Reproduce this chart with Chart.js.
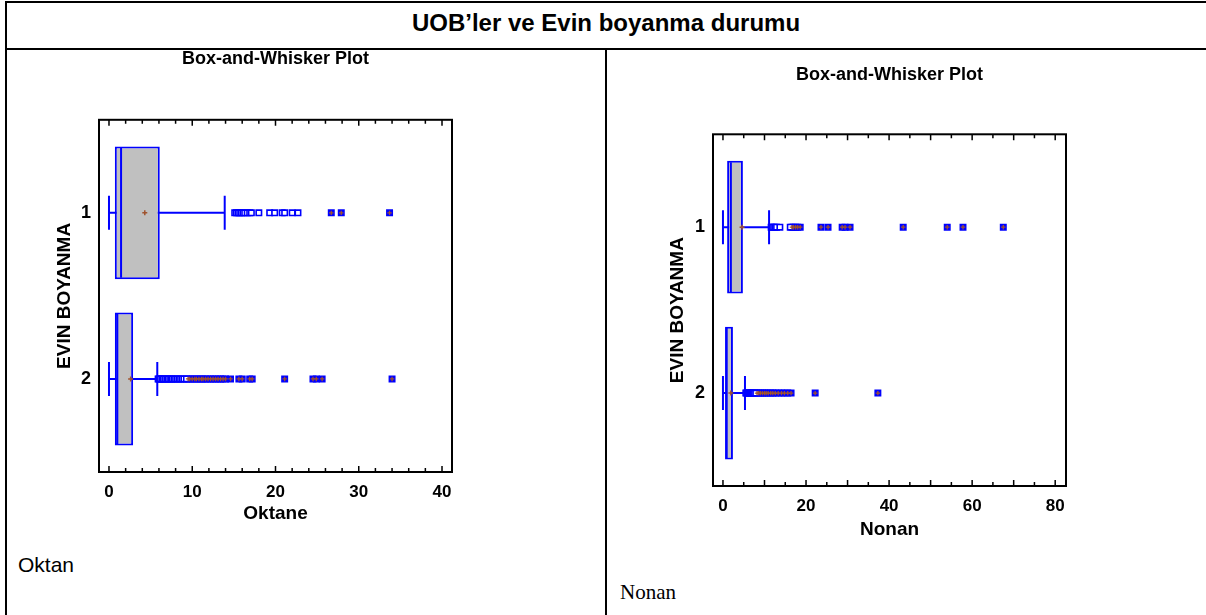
<!DOCTYPE html>
<html>
<head>
<meta charset="utf-8">
<script src="https://cdn.jsdelivr.net/npm/chart.js@4.4.0/dist/chart.umd.min.js"></script>
<style>
  html, body { margin: 0; padding: 0; background: #fff; }
  body { width: 1206px; height: 615px; overflow: hidden; position: relative; font-family: "Liberation Sans", Arial, sans-serif; }
  .ln { position: absolute; background: #000; }
  #mainTitle { position: absolute; left: 6px; width: 1200px; top: 0px; height: 46px; display: flex; align-items: center; justify-content: center; font-weight: bold; font-size: 24px; color: #000; }
  canvas { position: absolute; }
  #capL { position: absolute; left: 18px; top: 553px; font-size: 21px; font-family: "Liberation Sans", Arial, sans-serif; }
  #capR { position: absolute; left: 620px; top: 580px; font-size: 21px; font-family: "Liberation Serif", "Times New Roman", serif; }
</style>
</head>
<body>
<div class="ln" style="left:5px;top:1px;width:1201px;height:2px"></div>
<div class="ln" style="left:5px;top:1px;width:2px;height:614px"></div>
<div class="ln" style="left:5px;top:48px;width:1201px;height:2px"></div>
<div class="ln" style="left:605px;top:48px;width:2px;height:567px"></div>
<div id="mainTitle">UOB’ler ve Evin boyanma durumu</div>
<canvas id="cOkt" width="480" height="480" style="left:20px;top:45px"></canvas>
<canvas id="cNon" width="480" height="480" style="left:630px;top:62px"></canvas>
<div id="capL">Oktan</div>
<div id="capR">Nonan</div>
<script>
// ---------- data ----------
const categories = ['1', '2'];
const catPos = [1, 2];

// Oktane
const oktLow = [0, 0];
const oktQ1 = [0.7, 0.7];
const oktMedian = [1.45, 1.0];
const oktQ3 = [6.1, 2.9];
const oktHigh = [13.9, 5.8];
const oktMean = [4.3, 2.6];
const oktNear1 = [15.1, 15.3, 15.5, 15.7, 15.9, 16.1, 16.3, 16.6, 16.9, 17.1, 18.0, 19.3, 19.9, 20.8, 21.1, 22.0, 22.7];
const oktFar1 = [26.7, 27.9, 33.7];
const oktNear2 = [5.9, 6.0, 6.1, 6.2, 6.4, 6.5, 6.7, 6.8, 7.0, 7.1, 7.3, 7.5, 7.6, 7.8, 8.0, 8.2, 8.4, 8.6, 8.8, 9.0, 9.3];
const oktFar2 = [9.5, 9.7, 10.0, 10.3, 10.5, 10.8, 11.1, 11.3, 11.6, 11.9, 12.2, 12.5, 12.8, 13.1, 13.4, 13.7, 14.0, 14.6, 15.6, 16.0, 16.9, 17.2, 21.1, 24.5, 24.9, 25.6, 34.0];

// Nonan
const nonLow = [0, 0];
const nonQ1 = [1.0, 0.5];
const nonMedian = [1.9, 0.9];
const nonQ3 = [4.8, 2.4];
const nonHigh = [11.1, 5.3];
const nonMean = [4.6, 1.9];
const nonNear1 = [11.6, 11.9, 12.2, 12.5, 12.9, 13.7, 16.2];
const nonFar1 = [16.6, 17.0, 17.5, 18.0, 18.6, 23.6, 25.3, 28.7, 29.4, 30.6, 43.4, 54.0, 57.8, 67.5];
const nonNear2 = [5.5, 5.7, 5.9, 6.1, 6.3, 6.5, 6.8, 7.0, 7.3, 7.6, 7.9];
const nonFar2 = [8.2, 8.6, 9.0, 9.5, 10.0, 10.4, 10.9, 11.5, 12.0, 12.6, 13.3, 14.1, 14.8, 15.6, 16.4, 22.2, 37.3];

const oktTickLabels = [0, 10, 20, 30, 40];
const nonTickLabels = [0, 20, 40, 60, 80];

// ---------- styling ----------
const BLUE = '#0000FF';
const GRAY = '#C0C0C0';
const BROWN = '#A0522D';
const FONT = "'Liberation Sans', Arial, sans-serif";
Chart.defaults.font.family = FONT;
Chart.defaults.color = '#000';

const framePlugin = {
  id: 'frame',
  afterDatasetsDraw(chart, args, opts) {
    const { ctx, chartArea: a } = chart;
    const x = chart.scales.x;
    ctx.save();
    ctx.strokeStyle = '#000';
    ctx.lineWidth = 1.5;
    x.ticks.forEach(t => {
      const px = x.getPixelForValue(t.value);
      const len = (Math.abs(t.value % opts.major) < 1e-6) ? 6 : 4;
      ctx.beginPath();
      ctx.moveTo(px, a.bottom); ctx.lineTo(px, a.bottom - len);
      ctx.moveTo(px, a.top); ctx.lineTo(px, a.top + len);
      ctx.stroke();
    });
    ctx.lineWidth = 2;
    ctx.strokeRect(a.left, a.top, a.right - a.left, a.bottom - a.top);
    ctx.restore();
  }
};

function pts(vals, y) { return vals.map(v => ({ x: v, y: y })); }

function buildDatasets(s) {
  const ds = [];
  catPos.forEach((y, i) => {
    ds.push({
      type: 'line', order: 3,
      data: [{ x: s.low[i], y }, { x: s.q1[i], y }, { x: s.q3[i], y }, { x: s.high[i], y }],
      borderColor: BLUE, borderWidth: 2, fill: false,
      pointStyle: 'line', pointRotation: 90, pointRadius: [17, 0, 0, 17],
      pointBorderColor: BLUE, pointBorderWidth: 2
    });
  });
  ds.push({
    type: 'bar', indexAxis: 'y', order: 2,
    data: catPos.map((y, i) => ({ x: [s.q1[i], s.q3[i]], y })),
    backgroundColor: GRAY, borderColor: BLUE, borderWidth: 2, borderSkipped: false,
    categoryPercentage: 0.8, barPercentage: 1
  });
  ds.push({
    type: 'scatter', order: 1,
    data: catPos.map((y, i) => ({ x: s.median[i], y })),
    pointStyle: 'line', pointRotation: 90, pointRadius: 65,
    pointBorderColor: BLUE, pointBorderWidth: 2
  });
  ds.push({
    type: 'scatter', order: 1,
    data: pts(s.near[0], 1).concat(pts(s.near[1], 2)),
    pointStyle: 'rect', pointRadius: 3.8,
    pointBackgroundColor: '#FFFFFF', pointBorderColor: BLUE, pointBorderWidth: 1.6
  });
  ds.push({
    type: 'scatter', order: 1,
    data: pts(s.far[0], 1).concat(pts(s.far[1], 2)),
    pointStyle: 'rect', pointRadius: 3.8,
    pointBackgroundColor: BLUE, pointBorderColor: BLUE, pointBorderWidth: 1.6
  });
  ds.push({
    type: 'scatter', order: 0,
    data: pts(s.far[0], 1).concat(pts(s.far[1], 2)),
    pointStyle: 'cross', pointRadius: 2.2,
    pointBorderColor: BROWN, pointBorderWidth: 1.3
  });
  ds.push({
    type: 'scatter', order: 0,
    data: catPos.map((y, i) => ({ x: s.mean[i], y })),
    pointStyle: 'cross', pointRadius: 2.5,
    pointBorderColor: BROWN, pointBorderWidth: 1.5
  });
  return ds;
}

function makeConfig(s, L) {
  return {
    type: 'scatter',
    data: { datasets: buildDatasets(s) },
    plugins: [framePlugin],
    options: {
      responsive: false, maintainAspectRatio: false, animation: false, events: [],
      layout: { padding: { left: 0, right: 20, top: 0, bottom: 0 } },
      plugins: {
        legend: { display: false }, tooltip: { enabled: false },
        title: {
          display: true, fullSize: false, text: 'Box-and-Whisker Plot', color: '#000',
          font: { family: FONT, size: 18, weight: 'bold' },
          padding: { top: 4, bottom: L.titleBottom }
        },
        frame: { major: 10 }
      },
      scales: {
        x: {
          type: 'linear', min: s.min, max: s.max, offset: false,
          grid: { display: false, drawTicks: false }, border: { display: false },
          afterBuildTicks: sc => {
            const last = s.tickLabels[s.tickLabels.length - 1];
            const arr = [];
            for (let v = s.tickLabels[0]; v <= last + 1e-9; v += s.minor) arr.push({ value: Math.round(v * 1e6) / 1e6 });
            sc.ticks = arr;
          },
          ticks: {
            autoSkip: false, maxRotation: 0, minRotation: 0,
            padding: 10, color: '#000',
            font: { family: FONT, size: 17, weight: 'bold' },
            callback: v => (s.tickLabels.indexOf(v) >= 0 ? String(v) : '')
          },
          title: {
            display: true, text: s.xTitle, color: '#000',
            font: { family: FONT, size: 19, weight: 'bold' },
            padding: { top: L.xTitleTop, bottom: 0 }
          }
        },
        y: {
          type: 'linear', min: 0.44, max: 2.56, reverse: true, offset: false,
          grid: { display: false, drawTicks: false }, border: { display: false },
          afterBuildTicks: sc => { sc.ticks = catPos.map(v => ({ value: v })); },
          ticks: {
            padding: 8, color: '#000',
            font: { family: FONT, size: 18, weight: 'bold' },
            callback: v => { const k = catPos.indexOf(v); return k >= 0 ? categories[k] : ''; }
          },
          title: {
            display: true, text: 'EVIN BOYANMA', color: '#000',
            font: { family: FONT, size: 19, weight: 'bold' },
            padding: { top: 0, bottom: L.yTitleGap }
          }
        }
      }
    }
  };
}

function placeChart(id, s, L, target) {
  const cv = document.getElementById(id);
  let chart = new Chart(cv, makeConfig(s, L));
  for (let k = 0; k < 3; k++) {
    const a = chart.chartArea;
    const w = Math.round(cv.width + target.w - (a.right - a.left));
    const h = Math.round(cv.height + target.h - (a.bottom - a.top));
    chart.destroy();
    cv.width = w; cv.height = h;
    chart = new Chart(cv, makeConfig(s, L));
  }
  const a = chart.chartArea;
  cv.style.left = (target.x - a.left) + 'px';
  cv.style.top = (target.y - a.top) + 'px';
}

placeChart('cOkt', {
  low: oktLow, q1: oktQ1, median: oktMedian, q3: oktQ3, high: oktHigh, mean: oktMean,
  near: [oktNear1, oktNear2], far: [oktFar1, oktFar2],
  min: -1.2, max: 41.2, minor: 2, tickLabels: oktTickLabels, xTitle: 'Oktane'
}, { titleBottom: 50.2, xTitleTop: -10, yTitleGap: -3.5 }, { x: 99, y: 120, w: 353, h: 352 });

placeChart('cNon', {
  low: nonLow, q1: nonQ1, median: nonMedian, q3: nonQ3, high: nonHigh, mean: nonMean,
  near: [nonNear1, nonNear2], far: [nonFar1, nonFar2],
  min: -2.4, max: 82.6, minor: 5, tickLabels: nonTickLabels, xTitle: 'Nonan'
}, { titleBottom: 48.7, xTitleTop: -8, yTitleGap: -2.5 }, { x: 713, y: 134, w: 353, h: 352 });
</script>
</body>
</html>
